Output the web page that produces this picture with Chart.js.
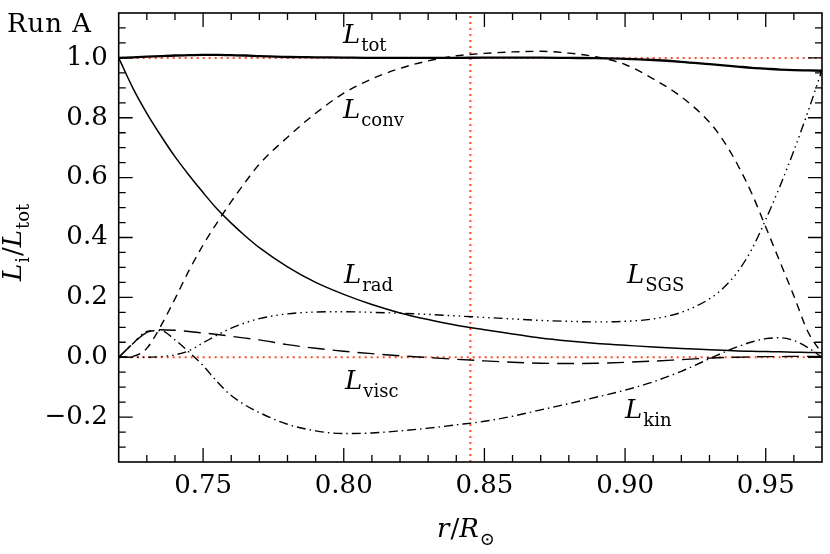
<!DOCTYPE html>
<html>
<head>
<meta charset="utf-8">
<script src="https://cdn.jsdelivr.net/npm/chart.js@4.4.1/dist/chart.umd.min.js"></script>
<style>
  html, body { margin: 0; padding: 0; background: #fff; }
  #wrap { width: 830px; height: 554px; }
</style>
</head>
<body>
<div id="wrap"><canvas id="lumChart"></canvas></div>
<script>
// radius grid r/R_sun shared by all curves
const radius = [0.72, 0.725, 0.73, 0.735, 0.74, 0.745, 0.75, 0.755, 0.76, 0.765, 0.77,
    0.78, 0.79, 0.80, 0.81, 0.82, 0.83, 0.84, 0.85, 0.86, 0.87, 0.88, 0.89, 0.90, 0.91, 0.92, 0.93,
    0.935, 0.94, 0.945, 0.95, 0.955, 0.96, 0.965, 0.97]

const lTot = [1.0, 1.002, 1.004, 1.006, 1.008, 1.009, 1.01, 1.01, 1.009, 1.008, 1.006,
    1.003, 1.002, 1.001, 1.0, 1.0, 1.0, 1.0, 1.001, 1.001, 1.001, 1.0, 0.999, 0.997, 0.993, 0.987, 0.979,
    0.975, 0.971, 0.967, 0.964, 0.961, 0.959, 0.958, 0.957]
const lRad = [1.0, 0.9, 0.815, 0.74, 0.67, 0.608, 0.55, 0.495, 0.448, 0.405, 0.366,
    0.302, 0.25, 0.21, 0.176, 0.148, 0.126, 0.107, 0.092, 0.078, 0.064, 0.054, 0.046, 0.04, 0.034, 0.029, 0.025,
    0.023, 0.021, 0.02, 0.019, 0.018, 0.017, 0.016, 0.015]
const lConv = [0.0, 0.003, 0.03, 0.105, 0.195, 0.29, 0.375, 0.45, 0.52, 0.585, 0.645,
    0.735, 0.815, 0.882, 0.93, 0.965, 0.99, 1.007, 1.015, 1.02, 1.022, 1.016, 1.003, 0.978, 0.93, 0.87, 0.785,
    0.723, 0.643, 0.548, 0.435, 0.32, 0.205, 0.085, 0.012]
const lSgs = [0.0, 0.0, 0.0, 0.002, 0.008, 0.022, 0.048, 0.074, 0.097, 0.115, 0.129,
    0.145, 0.151, 0.152, 0.15, 0.147, 0.143, 0.138, 0.133, 0.128, 0.123, 0.12, 0.118, 0.12, 0.128, 0.15, 0.195,
    0.232, 0.285, 0.36, 0.46, 0.57, 0.69, 0.82, 0.96]
const lVisc = [0.0, 0.045, 0.083, 0.092, 0.09, 0.086, 0.081, 0.076, 0.07, 0.064, 0.058,
    0.042, 0.03, 0.02, 0.012, 0.005, -0.001, -0.007, -0.012, -0.017, -0.02, -0.021, -0.02, -0.017, -0.013, -0.008, -0.003,
    -0.001, 0.0, 0.001, 0.002, 0.002, 0.003, 0.003, 0.003]
const lKin = [0.0, 0.045, 0.086, 0.089, 0.058, 0.017, -0.028, -0.082, -0.128, -0.16, -0.185,
    -0.224, -0.246, -0.255, -0.253, -0.246, -0.237, -0.226, -0.214, -0.197, -0.176, -0.155, -0.133, -0.11, -0.082, -0.047, -0.005,
    0.016, 0.035, 0.051, 0.062, 0.065, 0.056, 0.032, 0.0]

// reference lines
const refLevels = [0.0, 1.0]
const refRadius = 0.845

// axes
const xRange = [0.72, 0.97]
const yRange = [-0.35, 1.15]
const xTicks = [0.75, 0.80, 0.85, 0.90, 0.95]
const yTicks = [-0.2, 0.0, 0.2, 0.4, 0.6, 0.8, 1.0]

const SERIF = '"DejaVu Serif", serif'
const RED = 'rgb(255, 75, 40)'

const toPoints = (ys) => radius.map((r, i) => ({ x: r, y: ys[i] }))

const curve = (label, ys, dash, width) => ({
    label: label,
    data: toPoints(ys),
    borderColor: '#000',
    borderWidth: width,
    borderDash: dash,
    pointRadius: 0,
    showLine: true,
    cubicInterpolationMode: 'monotone',
    order: 1
})

const refLine = (label, pts) => ({
    label: label,
    data: pts,
    borderColor: RED,
    borderWidth: 2,
    borderDash: [2, 4],
    pointRadius: 0,
    showLine: true,
    tension: 0,
    order: 2
})

const datasets = [
    ...refLevels.map((v) => refLine('ref ' + v, [{ x: xRange[0], y: v }, { x: xRange[1], y: v }])),
    refLine('ref r', [{ x: refRadius, y: yRange[0] }, { x: refRadius, y: yRange[1] }]),
    curve('L_tot', lTot, [], 2.3),
    curve('L_rad', lRad, [], 1.5),
    curve('L_conv', lConv, [8, 6], 1.4),
    curve('L_SGS', lSgs, [9, 4, 1.5, 4, 1.5, 4, 1.5, 4], 1.4),
    curve('L_visc', lVisc, [17, 8], 1.4),
    curve('L_kin', lKin, [9, 4, 1.5, 4], 1.4)
]

// italic symbol with upright subscript
const drawSym = (ctx, x, y, main, sub, size) => {
    ctx.font = 'italic ' + size + 'px ' + SERIF
    ctx.fillText(main, x, y)
    const w = ctx.measureText(main).width
    ctx.font = Math.round(size * 0.7) + 'px ' + SERIF
    ctx.fillText(sub, x + w + 1, y + size * 0.3)
    return x + w + 1 + ctx.measureText(sub).width
}

const framePlugin = {
    id: 'frame',
    afterDraw(chart) {
        const { ctx, chartArea: a, scales } = chart
        const xs = scales.x
        const ys = scales.y
        ctx.save()
        ctx.strokeStyle = '#000'
        ctx.lineWidth = 1.6
        ctx.strokeRect(a.left, a.top, a.right - a.left, a.bottom - a.top)

        ctx.lineWidth = 1.3
        ctx.beginPath()
        for (let k = 1; k < 25; k++) {
            const v = xRange[0] + k * 0.01
            const px = xs.getPixelForValue(v)
            const len = (Math.round(v * 100) % 5 === 0) ? 14 : 7
            ctx.moveTo(px, a.bottom); ctx.lineTo(px, a.bottom - len)
            ctx.moveTo(px, a.top); ctx.lineTo(px, a.top + len)
        }
        for (let k = 1; k < 30; k++) {
            const v = yRange[0] + k * 0.05
            const py = ys.getPixelForValue(v)
            const major = Math.abs(Math.round(v * 100)) % 20 === 0
            const len = major ? 14 : 7
            ctx.moveTo(a.left, py); ctx.lineTo(a.left + len, py)
            ctx.moveTo(a.right, py); ctx.lineTo(a.right - len, py)
        }
        ctx.stroke()

        ctx.fillStyle = '#000'
        ctx.textBaseline = 'alphabetic'
        ctx.textAlign = 'left'
        ctx.font = '26px ' + SERIF
        ctx.letterSpacing = '1px'
        ctx.fillText('Run A', 7, 32)
        ctx.letterSpacing = '0px'

        drawSym(ctx, 343, 43, 'L', 'tot', 26)
        drawSym(ctx, 343, 118, 'L', 'conv', 26)
        drawSym(ctx, 344, 283, 'L', 'rad', 26)
        drawSym(ctx, 627, 283, 'L', 'SGS', 26)
        drawSym(ctx, 345, 389, 'L', 'visc', 26)
        drawSym(ctx, 625, 418, 'L', 'kin', 26)

        // y axis title
        ctx.save()
        ctx.translate(21, 281)
        ctx.rotate(-Math.PI / 2)
        let cx = drawSym(ctx, 0, 0, 'L', 'i', 26)
        ctx.font = '26px ' + SERIF
        ctx.fillText('/', cx + 1, 0)
        cx += 1 + ctx.measureText('/').width
        drawSym(ctx, cx, 0, 'L', 'tot', 26)
        ctx.restore()

        // x axis title
        ctx.font = 'italic 26px ' + SERIF
        ctx.fillText('r', 437, 537)
        let tx = 437 + ctx.measureText('r').width
        ctx.font = '26px ' + SERIF
        ctx.fillText('/', tx + 1, 537)
        tx += 1 + ctx.measureText('/').width
        drawSym(ctx, tx, 537, 'R', '\u2299', 26)
        ctx.restore()
    }
}

const lumChart = new Chart(document.getElementById('lumChart'), {
    type: 'scatter',
    data: { datasets: datasets },
    options: {
        responsive: true,
        maintainAspectRatio: false,
        animation: false,
        layout: { padding: { left: 0, right: 8, top: 13, bottom: 0 } },
        plugins: {
            legend: { display: false },
            tooltip: { enabled: false }
        },
        scales: {
            x: {
                type: 'linear',
                min: xRange[0],
                max: xRange[1],
                afterBuildTicks: (s) => { s.ticks = xTicks.map((v) => ({ value: v })) },
                afterFit: (s) => { s.height = 92; s.paddingLeft = 0; s.paddingRight = 0 },
                grid: { display: false, drawTicks: false },
                border: { display: false },
                ticks: {
                    color: '#000',
                    padding: 9,
                    maxRotation: 0,
                    autoSkip: false,
                    font: { family: SERIF, size: 26 },
                    callback: (v) => Number(v).toFixed(2)
                }
            },
            y: {
                type: 'linear',
                min: yRange[0],
                max: yRange[1],
                afterBuildTicks: (s) => { s.ticks = yTicks.map((v) => ({ value: v })) },
                afterFit: (s) => { s.width = 118.7; s.paddingTop = 0; s.paddingBottom = 0 },
                grid: { display: false, drawTicks: false },
                border: { display: false },
                ticks: {
                    color: '#000',
                    padding: 11,
                    autoSkip: false,
                    font: { family: SERIF, size: 26 },
                    callback: (v) => Number(v).toFixed(1).replace('-', '\u2212')
                }
            }
        }
    },
    plugins: [framePlugin]
})
</script>
</body>
</html>
